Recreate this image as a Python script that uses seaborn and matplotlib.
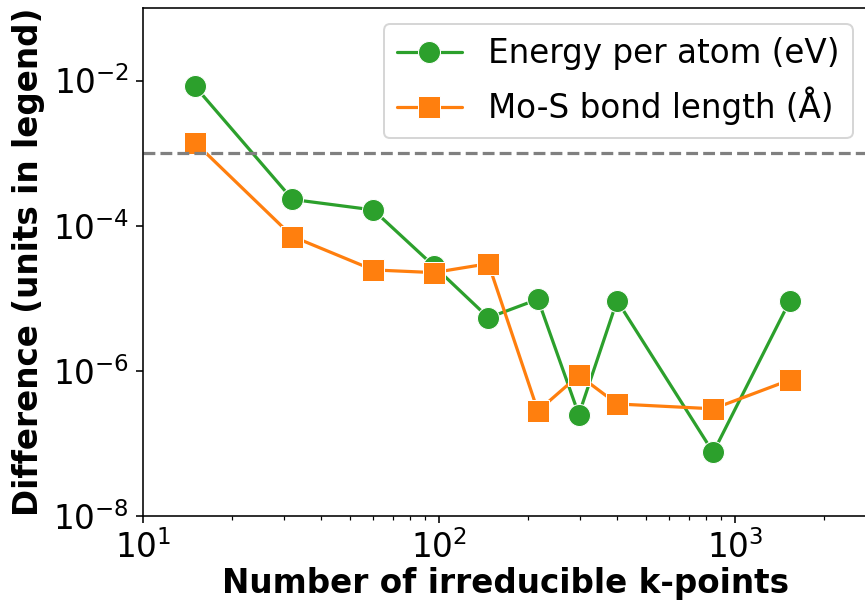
import matplotlib
matplotlib.use("Agg")
import matplotlib.pyplot as plt
import seaborn as sns
import pandas as pd

# k-point convergence of MoS2: differences relative to the densest grid
kpoints = [15, 32, 60, 96, 147, 216, 297, 400, 845, 1536]
energy_diff = [8.3e-3, 2.3e-4, 1.65e-4, 2.8e-5, 5.4e-6, 9.7e-6, 2.5e-7, 9.3e-6, 7.5e-8, 9.3e-6]
bond_diff = [1.4e-3, 7.1e-5, 2.46e-5, 2.26e-5, 3.0e-5, 2.8e-7, 8.7e-7, 3.5e-7, 3.0e-7, 7.5e-7]
tolerance = 1e-3

energy_label = "Energy per atom (eV)"
bond_label = "Mo-S bond length (Å)"

sns.set_style("ticks", rc={
    "axes.edgecolor": "black",
    "axes.labelcolor": "black",
    "text.color": "black",
    "xtick.color": "black",
    "ytick.color": "black",
})
plt.rcParams["font.family"] = ["DejaVu Sans"]

fs = 16.3

fig = plt.figure(figsize=(865 / 144, 602 / 144), dpi=144)
ax = fig.add_axes([143 / 865, 86 / 602, 726 / 865, 508 / 602])

df_e = pd.DataFrame({"k": kpoints, "d": energy_diff})
df_b = pd.DataFrame({"k": kpoints, "d": bond_diff})

sns.lineplot(data=df_e, x="k", y="d", ax=ax, color="#2ca02c", marker="o",
             markersize=11, linewidth=1.6, markeredgewidth=0.5,
             label=energy_label)
sns.lineplot(data=df_b, x="k", y="d", ax=ax, color="#ff7f0e", marker="s",
             markersize=11, linewidth=1.6, markeredgewidth=0.5,
             label=bond_label)

ax.axhline(tolerance, color="gray", linestyle="--", linewidth=1.6)

ax.set_xscale("log")
ax.set_yscale("log")
ax.set_xlim(10, 2840)
ax.set_ylim(1e-8, 1e-1)
ax.set_yticks([1e-8, 1e-6, 1e-4, 1e-2])
ax.tick_params(axis="both", which="major", labelsize=fs, length=3.5, width=0.8)
ax.tick_params(axis="both", which="minor", length=2, width=0.6)
ax.tick_params(axis="y", which="minor", left=False)
for s in ax.spines.values():
    s.set_linewidth(0.8)

ax.set_xlabel("Number of irreducible k-points", fontsize=fs,
              fontweight="bold", labelpad=1)
ax.set_ylabel("Difference (units in legend)", fontsize=fs, fontweight="bold")

ax.legend(loc="upper right", fontsize=fs, frameon=True)

fig.savefig("out.png", dpi=144)
